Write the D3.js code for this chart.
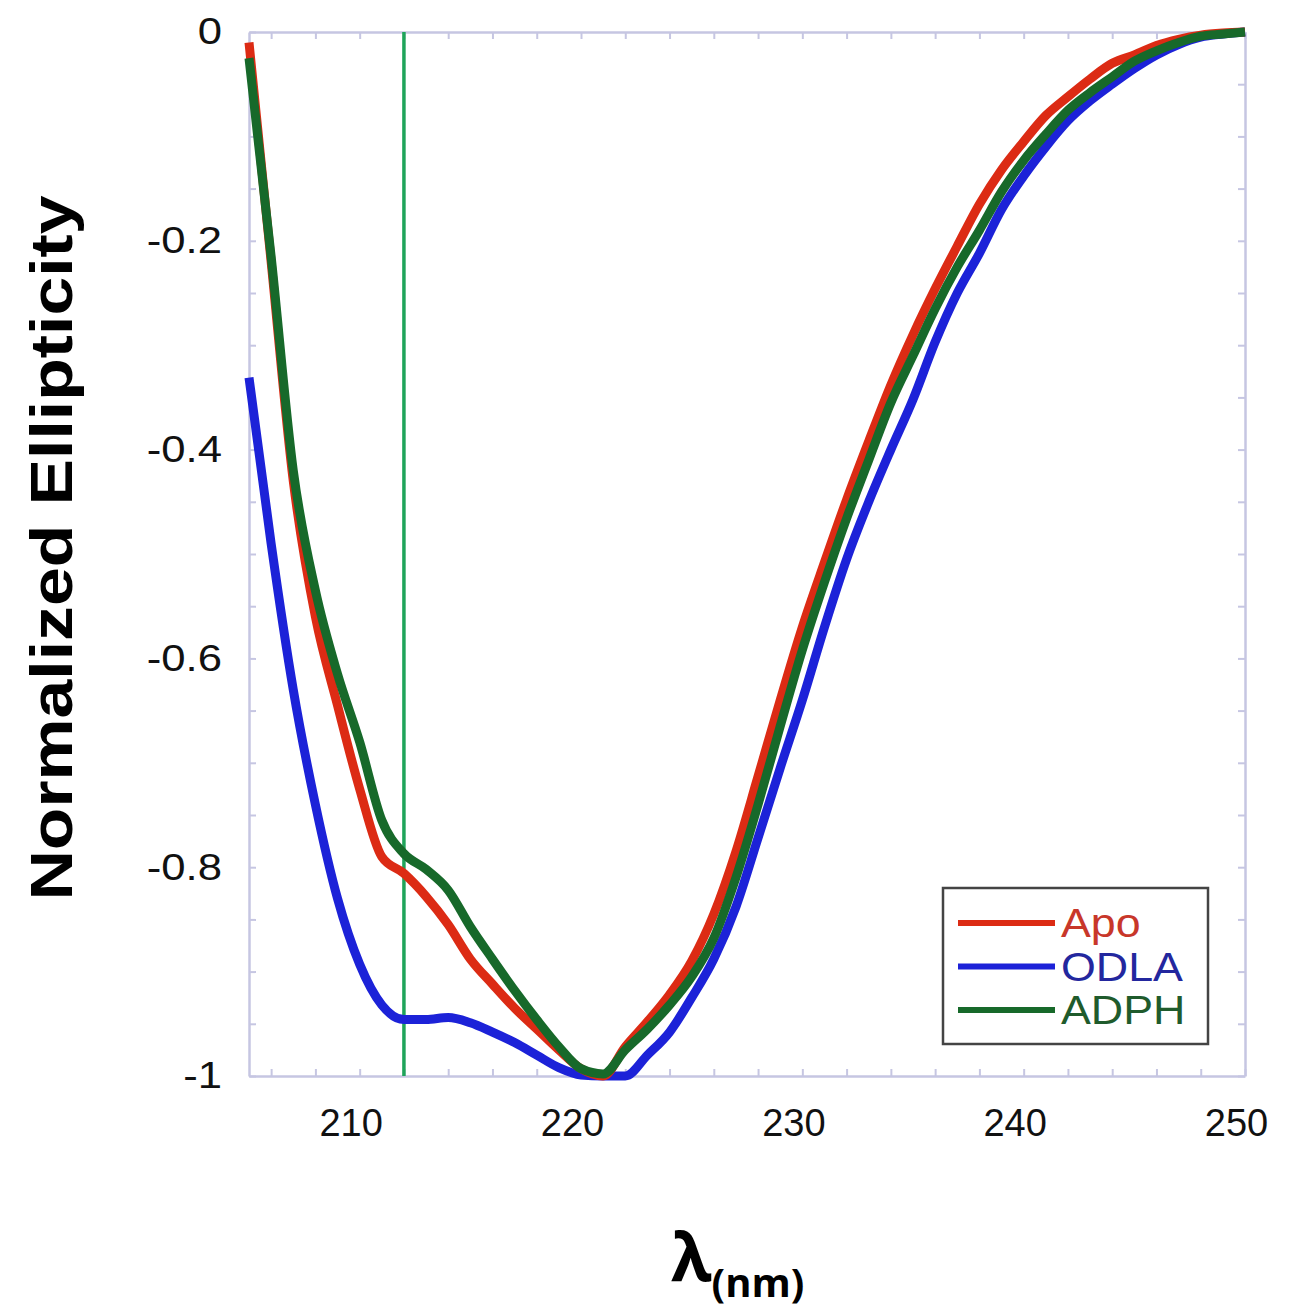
<!DOCTYPE html>
<html>
<head>
<meta charset="utf-8">
<script src="https://cdn.jsdelivr.net/npm/d3@7"></script>
<style>
  html, body { margin: 0; padding: 0; background: #fff; }
  svg { display: block; }
</style>
</head>
<body>
<svg id="chart" width="1303" height="1316"></svg>
<script>
// ---- data ----
const wavelengths = d3.range(205, 251); // 205..250 nm
const apo = [
  -0.010, -0.220, -0.430, -0.560, -0.645, -0.725, -0.790, -0.806, -0.828, -0.855,
  -0.888, -0.912, -0.935, -0.955, -0.975, -0.993, -1.000, -0.972, -0.948, -0.922,
  -0.890, -0.845, -0.785, -0.713, -0.640, -0.570, -0.508, -0.448, -0.392, -0.338,
  -0.290, -0.246, -0.205, -0.165, -0.132, -0.105, -0.080, -0.062, -0.045, -0.030,
  -0.022, -0.013, -0.007, -0.003, -0.001, 0.000
];
const odla = [
  -0.331, -0.490, -0.630, -0.740, -0.830, -0.893, -0.932, -0.946, -0.946, -0.944,
  -0.949, -0.958, -0.968, -0.980, -0.992, -0.999, -1.000, -1.000, -0.980, -0.958,
  -0.925, -0.888, -0.838, -0.772, -0.705, -0.640, -0.570, -0.505, -0.450, -0.400,
  -0.352, -0.297, -0.250, -0.212, -0.170, -0.138, -0.110, -0.085, -0.066, -0.050,
  -0.035, -0.022, -0.012, -0.005, -0.002, 0.000
];
const adph = [
  -0.025, -0.215, -0.420, -0.535, -0.615, -0.680, -0.755, -0.787, -0.802, -0.822,
  -0.857, -0.888, -0.918, -0.946, -0.972, -0.993, -0.998, -0.975, -0.955, -0.932,
  -0.905, -0.868, -0.810, -0.740, -0.665, -0.592, -0.527, -0.466, -0.410, -0.355,
  -0.310, -0.265, -0.225, -0.190, -0.153, -0.123, -0.098, -0.075, -0.058, -0.043,
  -0.028, -0.018, -0.010, -0.004, -0.002, 0.000
];
const seriesNames = ["Apo", "ODLA", "ADPH"];
const xTickValues = [210, 220, 230, 240, 250];
const yTickValues = [0, -0.2, -0.4, -0.6, -0.8, -1];
const markerWavelength = 212;

// ---- layout ----
const L = 249, R = 1245, T = 32, B = 1076;
const svg = d3.select("#chart");
const x = d3.scaleLinear().domain([205, 250]).range([L, R]);
const y = d3.scaleLinear().domain([-1, 0]).range([B, T]);

const frameColor = "#c6c6e2";
const colors = { Apo: "#dc2b14", ODLA: "#1c22d8", ADPH: "#17692a" };
const textColors = { Apo: "#c8372a", ODLA: "#23279e", ADPH: "#1f5b2c" };

// frame with minor ticks (inward)
const minorX = d3.range(206, 251, 2);
const minorY = d3.range(0, 21).map(i => -i * 0.05);
function styleFrame(g) {
  g.selectAll("path.domain").attr("stroke", frameColor).attr("stroke-width", 2.5);
  g.selectAll(".tick line").attr("stroke", frameColor).attr("stroke-width", 2);
  g.selectAll(".tick text").remove();
}
svg.append("g").attr("transform", `translate(0,${B})`)
  .call(d3.axisBottom(x).tickValues(minorX).tickSize(-7).tickSizeOuter(0).tickFormat(""))
  .call(styleFrame);
svg.append("g").attr("transform", `translate(0,${T})`)
  .call(d3.axisTop(x).tickValues(minorX).tickSize(-7).tickSizeOuter(0).tickFormat(""))
  .call(styleFrame);
svg.append("g").attr("transform", `translate(${L},0)`)
  .call(d3.axisLeft(y).tickValues(minorY).tickSize(-7).tickSizeOuter(0).tickFormat(""))
  .call(styleFrame);
svg.append("g").attr("transform", `translate(${R},0)`)
  .call(d3.axisRight(y).tickValues(minorY).tickSize(-7).tickSizeOuter(0).tickFormat(""))
  .call(styleFrame);

// x tick labels
const xAxis = svg.append("g").attr("transform", `translate(0,${B})`)
  .call(d3.axisBottom(x).tickValues(xTickValues).tickSize(0).tickPadding(33).tickFormat(d3.format("d")));
xAxis.select("path.domain").remove();
xAxis.selectAll("text")
  .attr("dx", -9)
  .attr("font-family", "'Liberation Sans', Arial, sans-serif")
  .attr("font-size", 38).attr("fill", "#111");

// y tick labels (horizontally stretched as in the original)
const yAxis = svg.append("g").attr("transform", `translate(${L},0)`)
  .call(d3.axisLeft(y).tickValues(yTickValues).tickSize(0).tickPadding(27).tickFormat(d => d === 0 ? "0" : String(d)));
yAxis.select("path.domain").remove();
yAxis.selectAll("text")
  .attr("font-family", "'Liberation Sans', Arial, sans-serif")
  .attr("font-size", 37).attr("fill", "#111")
  .attr("transform", function() {
    const tx = +d3.select(this).attr("x");
    return `translate(${tx},0) scale(1.18,1)`;
  })
  .attr("x", 0);

// vertical marker line
svg.append("line")
  .attr("x1", x(markerWavelength)).attr("x2", x(markerWavelength))
  .attr("y1", y(0)).attr("y2", y(-1))
  .attr("stroke", "#1fa45a").attr("stroke-width", 3.5);

// data lines
const line = d3.line()
  .x((d, i) => x(wavelengths[i]))
  .y(d => y(d))
  .curve(d3.curveMonotoneX);
const seriesData = { Apo: apo, ODLA: odla, ADPH: adph };
["ODLA", "Apo", "ADPH"].forEach(name => {
  svg.append("path")
    .datum(seriesData[name])
    .attr("d", line)
    .attr("fill", "none")
    .attr("stroke", colors[name])
    .attr("stroke-width", 9)
    .attr("stroke-linejoin", "round");
});

// legend
const lg = svg.append("g");
lg.append("rect").attr("x", 943).attr("y", 888).attr("width", 265).attr("height", 156)
  .attr("fill", "#fff").attr("stroke", "#444").attr("stroke-width", 2.5);
seriesNames.forEach((name, i) => {
  const yy = 923 + i * 43.5;
  lg.append("line").attr("x1", 958).attr("x2", 1055).attr("y1", yy).attr("y2", yy)
    .attr("stroke", colors[name]).attr("stroke-width", 6);
  lg.append("text")
    .attr("transform", `translate(1061,${yy + 14}) scale(1.12,1)`)
    .attr("font-family", "'Liberation Sans', Arial, sans-serif")
    .attr("font-size", 40).attr("fill", textColors[name]).text(name);
});

// axis titles
svg.append("text")
  .attr("transform", "translate(72,548) rotate(-90)")
  .attr("text-anchor", "middle")
  .attr("font-family", "'Liberation Sans', Arial, sans-serif")
  .attr("font-weight", "bold").attr("font-size", 60)
  .attr("textLength", 705).attr("lengthAdjust", "spacingAndGlyphs")
  .attr("fill", "#000")
  .text("Normalized Ellipticity");

const xt = svg.append("text")
  .attr("x", 671).attr("y", 1281)
  .attr("font-family", "'Open Sans', 'DejaVu Sans', sans-serif")
  .attr("font-weight", "bold").attr("fill", "#000");
xt.append("tspan").attr("font-size", 66).text("λ");
xt.append("tspan").attr("font-size", 40).attr("dy", 16).text("(nm)");
</script>
</body>
</html>
